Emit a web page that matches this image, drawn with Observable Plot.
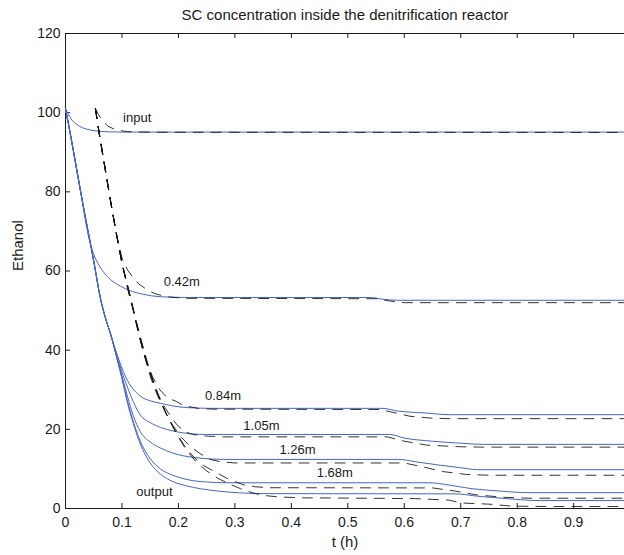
<!DOCTYPE html>
<html>
<head>
<meta charset="utf-8">
<script src="https://cdn.jsdelivr.net/npm/d3@7"></script>
<script src="https://cdn.jsdelivr.net/npm/@observablehq/plot@0.6"></script>
<style>
  html, body { margin: 0; padding: 0; background: #fff; overflow: hidden; }
</style>
</head>
<body>
<div id="chart"></div>
<script>
// ---- Data ----
const title = "SC concentration inside the denitrification reactor";
const xLabel = "t (h)";
const yLabel = "Ethanol";

const xTicks = [0, 0.1, 0.2, 0.3, 0.4, 0.5, 0.6, 0.7, 0.8, 0.9];
const xTickLabels = ["0", "0.1", "0.2", "0.3", "0.4", "0.5", "0.6", "0.7", "0.8", "0.9"];
const yTicks = [0, 20, 40, 60, 80, 100, 120];

const locations = ["input", "0.42m", "0.84m", "1.05m", "1.26m", "1.68m", "output"];

// solid (blue) series: [t, ethanol]
const solidInput = [[0,101],[0.005,99.6],[0.01,98.4],[0.02,97],[0.03,96.2],[0.045,95.6],[0.06,95.3],[0.08,95.15],[0.1,95.1],[1,95.1]];
const solid042 = [[0,101],[0.01,93.5],[0.02,85.5],[0.03,77.5],[0.035,73],[0.042,68],[0.05,64.2],[0.06,61.3],[0.068,59.6],[0.08,57.8],[0.097,56.2],[0.115,55],[0.138,54.1],[0.168,53.5],[0.22,53.3],[0.54,53.3],[0.56,52.9],[0.59,52.6],[1,52.6]];
const solid084 = [[0,101],[0.01,93.5],[0.02,85.5],[0.03,77.5],[0.04,70],[0.05,62.5],[0.062,53],[0.07,48.5],[0.08,44],[0.09,39.5],[0.1,35.5],[0.11,32.3],[0.1325,28.4],[0.15,27.2],[0.168,26.6],[0.19,25.9],[0.215,25.5],[0.26,25.3],[0.56,25.3],[0.59,24.6],[0.64,24.1],[0.68,23.7],[1,23.7]];
const solid105 = [[0,101],[0.01,93.5],[0.02,85.5],[0.03,77.5],[0.04,70],[0.05,62.5],[0.062,53],[0.07,48.5],[0.08,44],[0.09,39],[0.1,34.5],[0.11,30.5],[0.12,27],[0.1325,23.6],[0.15,21.7],[0.168,20.5],[0.19,19.6],[0.209,19.1],[0.25,18.7],[0.574,18.7],[0.6,17.8],[0.65,17.0],[0.7,16.5],[0.74,16.2],[1,16.2]];
const solid126 = [[0,101],[0.01,93.5],[0.02,85.5],[0.03,77.5],[0.04,70],[0.05,62.5],[0.062,53],[0.07,48.5],[0.08,44],[0.09,38.8],[0.1,33.5],[0.11,28.2],[0.12,23.5],[0.1325,19.4],[0.15,16.8],[0.168,15.3],[0.19,14.0],[0.209,13.3],[0.24,12.7],[0.28,12.4],[0.59,12.4],[0.62,11.8],[0.66,11.0],[0.7,10.3],[0.73,9.8],[1,9.8]];
const solid168 = [[0,101],[0.01,93.5],[0.02,85.5],[0.03,77.5],[0.04,70],[0.05,62.5],[0.062,53],[0.07,48.5],[0.08,44],[0.09,38.6],[0.1,33],[0.11,27],[0.12,22],[0.1325,17],[0.15,12.6],[0.168,10],[0.19,8.4],[0.21,7.5],[0.227,7.0],[0.25,6.7],[0.286,6.5],[0.645,6.5],[0.68,5.9],[0.72,5.0],[0.77,4.4],[0.82,4.0],[1,4.0]];
const solidOutput = [[0,101],[0.01,93.5],[0.02,85.5],[0.03,77.5],[0.04,70],[0.05,62.5],[0.062,53],[0.07,48.5],[0.08,44],[0.09,38.5],[0.1,32.8],[0.11,26.5],[0.12,21.5],[0.1325,16.3],[0.15,11.5],[0.168,8.7],[0.19,6.8],[0.215,5.7],[0.239,5.0],[0.27,4.4],[0.315,3.9],[0.36,3.75],[0.69,3.7],[0.73,3.1],[0.78,2.5],[0.84,2.0],[1,2.0]];

// dashed (black) series: [t, ethanol]
const dashInput = [[0.053,101],[0.058,99.6],[0.065,98],[0.075,96.6],[0.09,95.6],[0.11,95.2],[0.15,95.05],[1,95.0]];
const dash042 = [[0.053,101],[0.06,94.5],[0.07,86],[0.08,77.5],[0.09,69.5],[0.1,63.3],[0.11,60.2],[0.12,58.3],[0.13,56.7],[0.147,55],[0.16,54.2],[0.18,53.5],[0.21,53.1],[0.55,53.0],[0.575,52.4],[0.6,52.0],[1,52.0]];
const dash084 = [[0.053,101],[0.06,94.5],[0.07,86],[0.08,77.5],[0.09,69.5],[0.1,62],[0.11,55.5],[0.12,50],[0.128,45],[0.136,40.5],[0.145,36.5],[0.155,33],[0.167,30],[0.18,28],[0.197,27],[0.209,26],[0.235,25.3],[0.26,25.1],[0.555,25.0],[0.58,24.3],[0.61,23.3],[0.65,22.8],[0.68,22.7],[1,22.7]];
const dash105 = [[0.053,101],[0.06,94.5],[0.07,86],[0.08,77.5],[0.09,69.5],[0.1,62],[0.111,55.3],[0.121,49.5],[0.13,44],[0.139,39],[0.149,34.3],[0.16,30],[0.172,26.5],[0.185,23.5],[0.197,21.2],[0.21,19.5],[0.225,18.7],[0.25,18.3],[0.28,18.1],[0.57,18.1],[0.6,17.0],[0.64,16.0],[0.7,15.6],[0.74,15.5],[1,15.5]];
const dash126 = [[0.053,101],[0.06,94.5],[0.07,86],[0.08,77.5],[0.09,69.5],[0.1,62],[0.112,55],[0.122,49],[0.131,43.5],[0.141,38],[0.151,33],[0.163,28.5],[0.176,24.5],[0.19,21],[0.205,18],[0.22,15.8],[0.24,13.7],[0.256,12.4],[0.275,11.8],[0.3,11.5],[0.6,11.5],[0.63,10.6],[0.67,9.3],[0.71,8.6],[0.75,8.4],[1,8.4]];
const dash168 = [[0.053,101],[0.06,94.5],[0.07,86],[0.08,77.5],[0.09,69.5],[0.1,62],[0.113,54.5],[0.123,48.5],[0.133,43],[0.143,37.5],[0.154,32.5],[0.166,28],[0.18,23.5],[0.195,19.5],[0.21,16],[0.227,13],[0.245,10.8],[0.268,9.0],[0.285,7.7],[0.3,6.8],[0.315,6.0],[0.335,5.5],[0.36,5.25],[0.65,5.2],[0.69,4.4],[0.73,3.4],[0.78,2.8],[0.82,2.6],[1,2.6]];
const dashOutput = [[0.053,101],[0.06,94.5],[0.07,86],[0.08,77.5],[0.09,69.5],[0.1,62],[0.114,54],[0.124,48],[0.134,42.5],[0.145,37],[0.156,32],[0.168,27.3],[0.182,22.8],[0.197,18.7],[0.213,15],[0.23,12],[0.25,9.5],[0.27,7.6],[0.29,6.2],[0.31,5.0],[0.33,4.0],[0.35,3.3],[0.38,2.9],[0.42,2.7],[0.62,2.5],[0.68,2.1],[0.7,1.4],[0.75,1.1],[0.79,0.6],[0.85,0.5],[1,0.5]];

// annotation anchors [t, ethanol] for each location label
const labelAnchors = [[0.102,98.7],[0.174,57.3],[0.247,28.5],[0.315,20.9],[0.379,14.7],[0.445,9.0],[0.1255,4.3]];

// ---- Build tables ----
const solidSeries = [solidInput, solid042, solid084, solid105, solid126, solid168, solidOutput];
const dashSeries = [dashInput, dash042, dash084, dash105, dash126, dash168, dashOutput];
const solidRows = solidSeries.flatMap((s, k) => s.map(([t, v]) => ({loc: locations[k], t, v})));
const dashRows = dashSeries.flatMap((s, k) => s.map(([t, v]) => ({loc: locations[k], t, v})));
const labelRows = locations.map((name, k) => ({name, t: labelAnchors[k][0], v: labelAnchors[k][1]}));
const xLabelMap = new Map(xTicks.map((d, i) => [d, xTickLabels[i]]));

const width = 624, height = 555;
const mt = 33, mb = 47, ml = 65, mr = 0;
const plotH = height - mt - mb, plotW = width - ml - mr;
const tick = 5;
const ink = "#1a1a1a";
const blue = "#4565c8";

const chart = Plot.plot({
  width, height,
  marginTop: mt, marginBottom: mb, marginLeft: ml, marginRight: mr,
  style: {fontFamily: "'Liberation Sans', Arial, sans-serif", fontSize: "14px", color: ink, background: "#fff"},
  x: {domain: [0, 0.99]},
  y: {domain: [0, 120]},
  marks: [
    // box lines
    Plot.ruleY([0], {stroke: ink}),
    Plot.ruleY([120], {stroke: ink}),
    Plot.ruleX([0], {stroke: ink}),
    // inward ticks
    Plot.tickX(xTicks, {x: d => d, insetTop: plotH - tick, stroke: ink}),
    Plot.tickX(xTicks, {x: d => d, insetBottom: plotH - tick, stroke: ink}),
    Plot.tickY(yTicks, {y: d => d, insetRight: plotW - tick, stroke: ink}),
    // tick labels
    Plot.axisX({ticks: xTicks, tickFormat: d => xLabelMap.get(d), tickSize: 0, tickPadding: 9, label: null, fontSize: 14}),
    Plot.axisY({ticks: yTicks, tickSize: 0, tickPadding: 5, label: null, fontSize: 14}),
    // series
    Plot.line(solidRows, {x: "t", y: "v", z: "loc", stroke: blue, strokeWidth: 1, curve: "monotone-x", clip: true}),
    Plot.line(dashRows, {x: "t", y: "v", z: "loc", stroke: "#111", strokeWidth: 0.85, strokeDasharray: "10,8", curve: "linear", clip: true}),
    // location labels
    Plot.text(labelRows, {x: "t", y: "v", text: "name", textAnchor: "start", lineAnchor: "middle", fontSize: 13, fill: ink}),
    // title & axis labels
    Plot.text([title], {frameAnchor: "top", dy: -18, lineAnchor: "middle", fontSize: 15, fill: ink}),
    Plot.text([xLabel], {frameAnchor: "bottom", dy: 34, lineAnchor: "middle", fontSize: 15, fill: ink}),
    Plot.text([yLabel], {frameAnchor: "left", dx: -47, rotate: -90, lineAnchor: "middle", fontSize: 15, fill: ink})
  ]
});
document.getElementById("chart").appendChild(chart);
</script>
</body>
</html>
